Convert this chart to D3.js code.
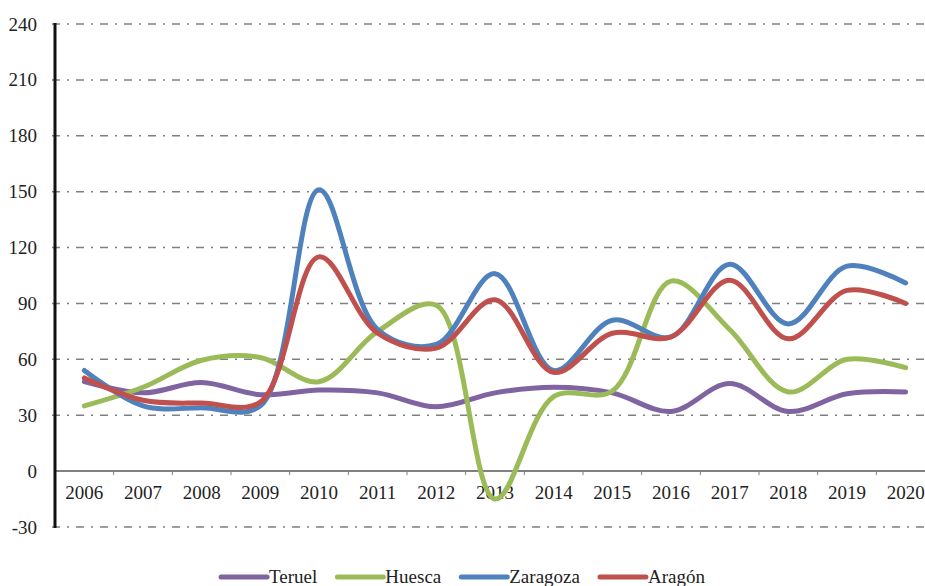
<!DOCTYPE html>
<html>
<head>
<meta charset="utf-8">
<script src="https://cdn.jsdelivr.net/npm/d3@7"></script>
<style>
body { margin: 0; background: #fff; }
</style>
</head>
<body>
<script>
// Annual series 2006-2020
var years = ["2006", "2007", "2008", "2009", "2010", "2011", "2012", "2013",
             "2014", "2015", "2016", "2017", "2018", "2019", "2020"];

var teruel   = [48, 42, 47.5, 41, 43.5, 42, 34.5, 42, 45, 42, 32, 47, 32, 41.5, 42.5];
var huesca   = [35, 45, 59.5, 61, 48, 75, 89, -15, 40, 43, 102, 76, 42.5, 60, 55.5];
var zaragoza = [54, 35, 34, 35, 151, 76, 68, 106, 54, 81, 72, 111, 79, 110, 101];
var aragon   = [50, 38, 36.5, 37, 115, 74, 66, 92, 53, 74, 72, 102.5, 71, 97, 90];

var seriesNames  = ["Teruel", "Huesca", "Zaragoza", "Aragón"];
var seriesColors = ["#8064A2", "#9BBB59", "#4F81BD", "#C0504D"];
var yTicks = [-30, 0, 30, 60, 90, 120, 150, 180, 210, 240];

var w = 925;
var h = 586;
var serif = "Liberation Serif, Times New Roman, serif";

var svg = d3.select("body").append("svg")
    .attr("width", w)
    .attr("height", h);

// Scales
var x = d3.scaleBand()
    .domain(years)
    .range([55, 935])
    .padding(0);

var y = d3.scaleLinear()
    .domain([-30, 240])
    .range([527, 24]);

// Dash-dot gridlines
svg.append("g")
    .selectAll("line")
    .data(yTicks.filter(function(d) { return d !== 0; }))
    .enter()
    .append("line")
    .attr("x1", 52)
    .attr("x2", w)
    .attr("y1", function(d) { return y(d); })
    .attr("y2", function(d) { return y(d); })
    .attr("stroke", "#808080")
    .attr("stroke-width", 1.5)
    .attr("stroke-dasharray", "8,7,2,7");

// Y axis labels
var yAxis = svg.append("g")
    .attr("transform", "translate(55,0)")
    .call(d3.axisLeft(y).tickValues(yTicks).tickSize(0).tickPadding(18).tickFormat(String));
yAxis.attr("font-family", serif).attr("font-size", 19);
yAxis.select(".domain").remove();
yAxis.selectAll("text").attr("fill", "#222");

// Zero line with category ticks at band boundaries
svg.append("line")
    .attr("x1", 55)
    .attr("x2", w)
    .attr("y1", y(0))
    .attr("y2", y(0))
    .attr("stroke", "#808080")
    .attr("stroke-width", 2);

svg.append("g")
    .selectAll("line")
    .data(years.slice(1))
    .enter()
    .append("line")
    .attr("x1", function(d) { return x(d); })
    .attr("x2", function(d) { return x(d); })
    .attr("y1", y(0))
    .attr("y2", y(0) + 4)
    .attr("stroke", "#808080")
    .attr("stroke-width", 1);

// Category labels
var xAxis = svg.append("g")
    .attr("transform", "translate(0," + y(0) + ")")
    .call(d3.axisBottom(x).tickSize(0).tickPadding(14));
xAxis.attr("font-family", serif).attr("font-size", 19);
xAxis.select(".domain").remove();
xAxis.selectAll("text").attr("fill", "#222");

// Left axis bar
svg.append("line")
    .attr("x1", 55)
    .attr("x2", 55)
    .attr("y1", y(240) - 1)
    .attr("y2", y(-30) + 1)
    .attr("stroke", "#111")
    .attr("stroke-width", 3);

// Smoothed series lines
var line = d3.line()
    .x(function(d, i) { return x(years[i]) + x.bandwidth() / 2; })
    .y(function(d) { return y(d); })
    .curve(d3.curveCatmullRom.alpha(0.5));

var allSeries = [teruel, huesca, zaragoza, aragon];

svg.append("g")
    .selectAll("path")
    .data(allSeries)
    .enter()
    .append("path")
    .attr("d", line)
    .attr("fill", "none")
    .attr("stroke", function(d, i) { return seriesColors[i]; })
    .attr("stroke-width", 5)
    .attr("stroke-linecap", "round")
    .attr("stroke-linejoin", "round");

// Legend
var legend = svg.append("g");
var lx = 0;
seriesNames.forEach(function(name, i) {
    var item = legend.append("g").attr("transform", "translate(" + lx + ",0)");
    item.append("line")
        .attr("x1", 2)
        .attr("x2", 48)
        .attr("y1", 0)
        .attr("y2", 0)
        .attr("stroke", seriesColors[i])
        .attr("stroke-width", 5)
        .attr("stroke-linecap", "round");
    var t = item.append("text")
        .attr("x", 50)
        .attr("y", 6)
        .attr("font-size", 19)
        .attr("font-family", serif)
        .attr("fill", "#222")
        .text(name);
    lx += 50 + t.node().getComputedTextLength() + 18;
});
lx -= 18;
legend.attr("transform", "translate(" + (462 - lx / 2) + ",577)");
</script>
</body>
</html>
